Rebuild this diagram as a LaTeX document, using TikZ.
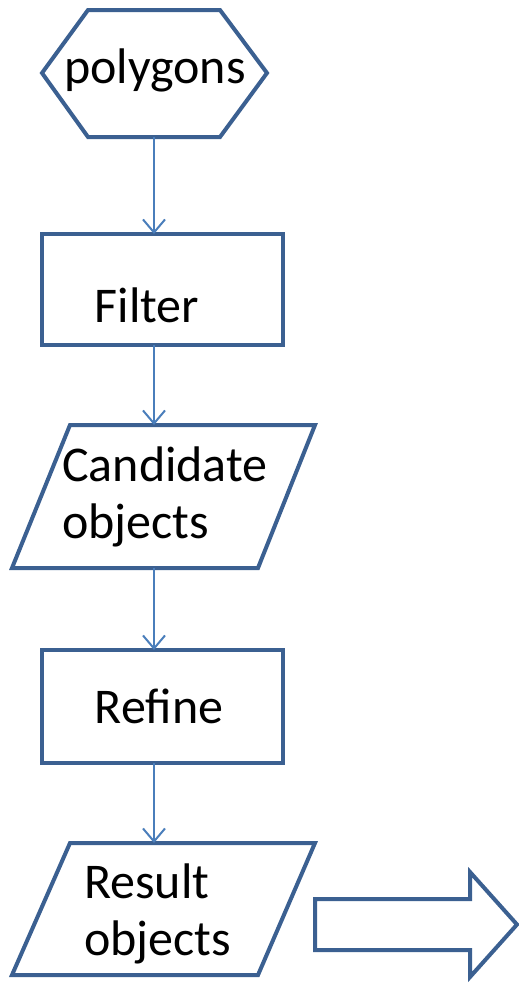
\documentclass[tikz,border=0pt]{standalone}
\usepackage{fontspec}
\setmainfont{Carlito}
\usetikzlibrary{arrows.meta}
\definecolor{outl}{HTML}{3B6091}
\definecolor{conc}{HTML}{4A7EBB}
\tikzset{
  shapeline/.style={draw=outl, line width=4pt, line join=miter, fill=white},
  conn/.style={draw=conc, line width=2pt, -{Straight Barb[length=13pt,width=22pt,line width=2pt]}},
  txt/.style={font=\fontsize{50}{57}\selectfont, inner sep=0pt, text=black}
}
\begin{document}
\begin{tikzpicture}[x=1pt,y=-1pt]
\useasboundingbox (0,0) rectangle (519,986);
% hexagon
\draw[shapeline] (42,73) -- (88,10) -- (220,10) -- (267,73) -- (220,137) -- (88,137) -- cycle;
\node[txt] (poly) at (155,70) {polygons};
\coordinate (polyB) at (154,137);
% filter
\draw[shapeline] (42,234) rectangle (283,345);
\node[txt] (filter) at (147,305) {Filter};
\coordinate (filterT) at (154,234);
\coordinate (filterB) at (154,345);
% candidate
\draw[shapeline] (70,425) -- (315,425) -- (258,568) -- (12,568) -- cycle;
\node[txt, align=left, anchor=west] (cand) at (62,497) {Candidate\\objects};
\coordinate (candT) at (154,425);
\coordinate (candB) at (154,568);
% refine
\draw[shapeline] (42,650) rectangle (283,763);
\node[txt] (refine) at (159,706) {Refine};
\coordinate (refineT) at (154,650);
\coordinate (refineB) at (154,763);
% result
\draw[shapeline] (70,843) -- (315,843) -- (258,975) -- (12,975) -- cycle;
\node[txt, align=left, anchor=west] (res) at (84,914) {Result\\objects};
\coordinate (resT) at (154,843);
% big arrow
\draw[shapeline] (315,899) -- (470,899) -- (470,872) -- (517,924.5) -- (470,977) -- (470,950) -- (315,950) -- cycle;
% connectors
\draw[conn] (polyB) -- (filterT);
\draw[conn] (filterB) -- (candT);
\draw[conn] (candB) -- (refineT);
\draw[conn] (refineB) -- (resT);
\end{tikzpicture}
\end{document}
